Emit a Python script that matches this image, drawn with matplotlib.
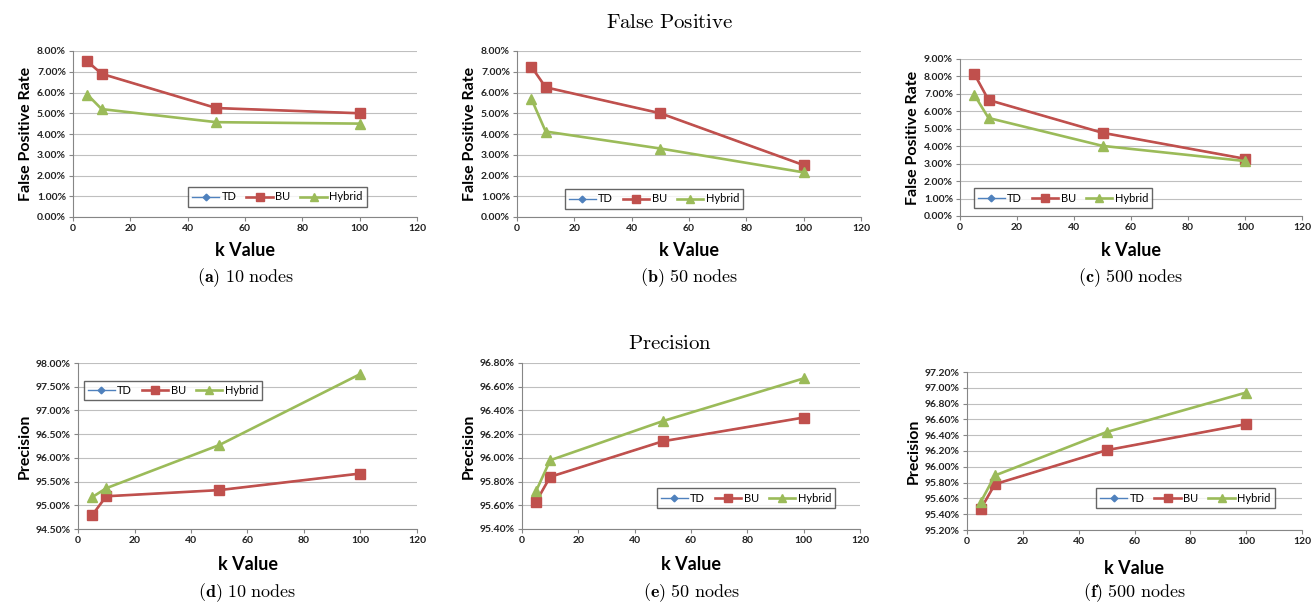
import numpy as np
import matplotlib
matplotlib.use("Agg")
from matplotlib import pyplot as plt
from matplotlib.ticker import FuncFormatter

plt.rcParams['mathtext.fontset'] = 'cm'

# k values used in every panel
k = [5, 10, 50, 100]

# false positive rate (%), TD equals BU so it sits under the red line
fp10_bu = [7.50, 6.90, 5.25, 5.00]
fp10_hy = [5.90, 5.20, 4.57, 4.50]
fp50_bu = [7.25, 6.25, 5.00, 2.50]
fp50_hy = [5.70, 4.12, 3.30, 2.15]
fp500_bu = [8.15, 6.65, 4.77, 3.28]
fp500_hy = [6.95, 5.62, 4.02, 3.15]

# precision (%)
pr10_bu = [94.79, 95.19, 95.32, 95.67]
pr10_hy = [95.17, 95.36, 96.27, 97.77]
pr50_bu = [95.63, 95.84, 96.14, 96.34]
pr50_hy = [95.72, 95.98, 96.31, 96.67]
pr500_bu = [95.47, 95.78, 96.21, 96.54]
pr500_hy = [95.56, 95.89, 96.44, 96.94]

W, H = 1311, 603
fig = plt.figure(figsize=(W / 100, H / 100), dpi=100)

blue = "#4F81BD"
red = "#C0504D"
green = "#9BBB59"
sans = "Lato"


def px_axes(x0, y0, x1, y1):
    # pixel box (top-left origin) -> figure axes
    return fig.add_axes([x0 / W, 1 - y1 / H, (x1 - x0) / W, (y1 - y0) / H])


def panel(box, bu, hy, ylim, step, ylabel, leg, cap, cap_y, kv_y):
    ax = px_axes(*box)
    ax.plot(k, bu, color=blue, marker="D", ms=4, lw=1.0, label="TD")
    ax.plot(k, bu, color=red, marker="s", ms=7, lw=1.9, label="BU")
    ax.plot(k, hy, color=green, marker="^", ms=7, lw=1.9, label="Hybrid")
    ax.set_xlim(0, 120)
    ax.set_ylim(*ylim)
    ax.set_xticks(np.arange(0, 121, 20))
    ax.set_yticks(np.arange(ylim[0], ylim[1] + step / 2, step))
    ax.yaxis.set_major_formatter(FuncFormatter(lambda v, p: "%.2f%%" % v))
    ax.grid(axis="y", color="#BFBFBF", lw=0.8)
    ax.set_axisbelow(True)
    for s in ["top", "right"]:
        ax.spines[s].set_visible(False)
    for s in ["left", "bottom"]:
        ax.spines[s].set_color("#868686")
    ax.tick_params(axis="both", length=3, color="#868686", labelsize=7.5, pad=2)
    for t in ax.get_xticklabels() + ax.get_yticklabels():
        t.set_fontfamily(sans)
        t.set_fontweight("bold")
        t.set_color("#222222")
    ax.set_ylabel(ylabel, fontsize=11.5, fontweight="bold", fontfamily=sans, labelpad=3)
    cx = (box[0] + box[2]) / 2
    fig.text(cx / W, 1 - kv_y / H, "k Value", ha="center", va="center",
             fontsize=13, fontweight="bold", fontfamily=sans)
    fig.text(cx / W, 1 - cap_y / H, cap, ha="center", va="center", fontsize=13)
    lx0, ly0, lx1, ly1 = leg
    lg = ax.legend(loc="center", ncol=3, bbox_to_anchor=((lx0 + lx1) / 2 / W, 1 - (ly0 + ly1) / 2 / H),
                   bbox_transform=fig.transFigure, frameon=True, fancybox=False,
                   prop={"family": sans, "size": 8}, handlelength=2.4, columnspacing=0.9,
                   handletextpad=0.2, borderpad=0.4, markerscale=0.85)
    lg.get_frame().set_edgecolor("#404040")
    lg.get_frame().set_linewidth(1.0)
    return ax


panel((73, 51, 417, 217), fp10_bu, fp10_hy, (0, 8), 1, "False Positive Rate",
      (192, 189, 363, 205), r"$\mathbf{(a)}\ \mathrm{10\ nodes}$", 278, 250)
panel((517, 51, 861, 217), fp50_bu, fp50_hy, (0, 8), 1, "False Positive Rate",
      (568, 189, 740, 209), r"$\mathbf{(b)}\ \mathrm{50\ nodes}$", 278, 250)
panel((960, 59, 1302, 216), fp500_bu, fp500_hy, (0, 9), 1, "False Positive Rate",
      (978, 189, 1148, 207), r"$\mathbf{(c)}\ \mathrm{500\ nodes}$", 278, 250)
panel((78, 363, 417, 529), pr10_bu, pr10_hy, (94.5, 98), 0.5, "Precision",
      (88, 381, 258, 400), r"$\mathbf{(d)}\ \mathrm{10\ nodes}$", 593, 565)
panel((522, 363, 860, 529), pr50_bu, pr50_hy, (95.4, 96.8), 0.2, "Precision",
      (660, 487, 832, 509), r"$\mathbf{(e)}\ \mathrm{50\ nodes}$", 593, 565)
panel((967, 372, 1302, 530), pr500_bu, pr500_hy, (95.2, 97.2), 0.2, "Precision",
      (1100, 488, 1271, 508), r"$\mathbf{(f)}\ \mathrm{500\ nodes}$", 593, 568)

fig.text(670 / W, 1 - 22 / H, r"$\mathrm{False\ Positive}$", ha="center", va="center", fontsize=15)
fig.text(670 / W, 1 - 343 / H, r"$\mathrm{Precision}$", ha="center", va="center", fontsize=15)

plt.savefig("out.png", dpi=100)
